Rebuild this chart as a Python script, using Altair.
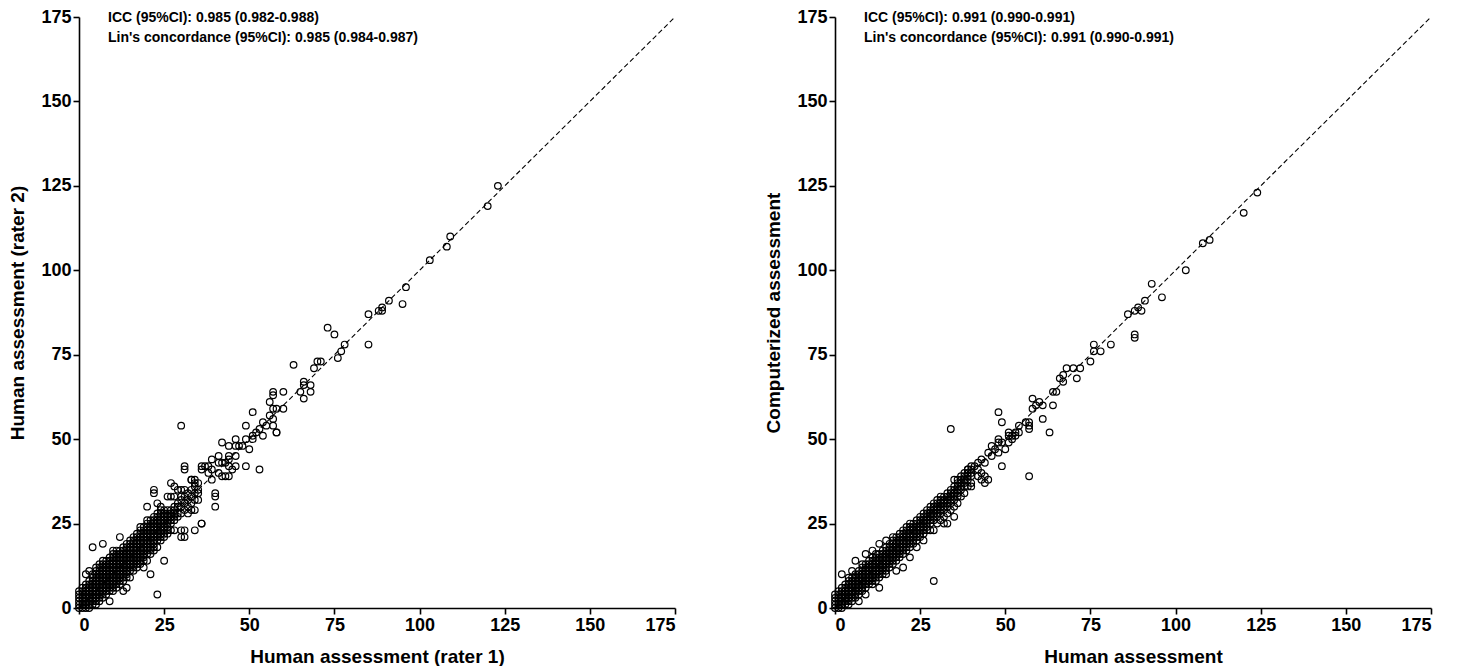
import altair as alt
import pandas as pd

# ---------------- Left panel: rater 1 (x) vs rater 2 (y) ----------------
# dense band: index = rater-1 score, values = rater-2 scores seen at that score
left_band = [
    [0, 1, 2, 3, 4, 5],
    [0, 1, 2, 3, 4, 5, 6],
    [0, 1, 2, 3, 4, 5, 6, 7, 10],
    [0, 1, 2, 3, 4, 5, 6, 7, 8, 11],
    [1, 2, 3, 4, 5, 6, 7, 8, 9, 10, 18],
    [1, 2, 3, 4, 5, 6, 7, 8, 9, 10, 11, 12],
    [2, 3, 4, 5, 6, 7, 8, 9, 10, 11, 12, 13],
    [3, 4, 5, 6, 7, 8, 9, 10, 11, 12, 13, 14, 19],
    [4, 5, 6, 7, 8, 9, 10, 11, 12, 13, 14],
    [2, 5, 6, 7, 8, 9, 10, 11, 12, 13, 14, 15],
    [5, 6, 7, 8, 9, 10, 11, 12, 13, 14, 15, 16, 17],
    [6, 7, 8, 9, 10, 11, 12, 13, 14, 15, 16, 17],
    [7, 8, 9, 10, 11, 12, 13, 14, 15, 16, 17, 21],
    [5, 8, 9, 10, 11, 12, 13, 14, 15, 16, 17, 18],
    [6, 9, 10, 11, 12, 13, 14, 15, 16, 17, 18, 19],
    [9, 11, 12, 13, 14, 15, 16, 17, 18, 19, 20],
    [11, 12, 13, 14, 15, 16, 17, 18, 19, 20, 21],
    [12, 13, 14, 15, 16, 17, 18, 19, 20, 21, 22],
    [13, 14, 15, 16, 17, 18, 19, 20, 21, 22, 23, 24],
    [12, 14, 15, 16, 17, 18, 19, 20, 21, 22, 23, 24],
    [14, 16, 17, 18, 19, 20, 21, 22, 23, 24, 25, 26, 30],
    [10, 16, 17, 18, 19, 20, 21, 22, 23, 24, 25, 26],
    [17, 18, 19, 20, 21, 22, 23, 24, 25, 26, 27, 34, 35],
    [4, 18, 20, 21, 22, 23, 24, 25, 26, 27, 28, 31],
    [20, 21, 22, 23, 24, 25, 26, 27, 28, 29, 30],
    [14, 21, 22, 23, 24, 25, 26, 27, 28, 29],
    [22, 23, 24, 25, 26, 27, 28, 29, 33],
    [23, 25, 26, 27, 28, 29, 33, 37],
    [23, 26, 27, 28, 29, 30, 33, 36],
    [27, 28, 30, 31, 35],
    [21, 23, 28, 30, 32, 33, 35, 54],
    [21, 23, 29, 31, 33, 35, 42],
    [28, 30, 32, 34],
    [29, 31, 33, 35, 38],
    [23, 29, 32, 34, 36, 37],
    [32, 34, 35, 37],
    [25, 42],
]
left_sparse_x = [37, 38, 38, 39, 39, 40, 40, 41, 41, 41, 42, 42, 42, 43, 43, 44, 44, 44,
                 44, 45, 46, 46, 46, 46, 48, 49, 49, 49, 50, 51, 51, 51, 53, 53, 54, 54,
                 56, 56, 57, 57, 57, 57, 57, 58, 58, 60, 60, 63, 65, 66, 66, 66, 68, 68,
                 69, 70, 71, 73, 75, 76, 77, 78, 85, 85, 88, 89, 89, 91, 95, 96, 103,
                 108, 109, 120, 123, 39, 36, 31, 33, 34, 40, 44, 47, 52, 55, 58, 36]
left_sparse_y = [42, 42, 40, 38, 44, 34, 30, 45, 43, 40, 43, 39, 49, 43, 39, 45, 44, 48,
                 39, 41, 50, 48, 45, 42, 48, 50, 54, 42, 47, 58, 51, 50, 53, 41, 55, 51,
                 61, 57, 64, 63, 59, 56, 54, 59, 52, 64, 59, 72, 64, 67, 66, 62, 66, 64,
                 71, 73, 73, 83, 81, 74, 76, 78, 87, 78, 88, 89, 88, 91, 90, 95, 103,
                 107, 110, 119, 125, 41, 41, 41, 38, 38, 33, 42, 48, 52, 54, 52, 25]

# ---------------- Right panel: human (x) vs computerized (y) ----------------
right_band = [
    [0, 1, 2, 3, 4],
    [0, 1, 2, 3, 4, 5],
    [0, 1, 2, 3, 4, 5, 6, 10],
    [1, 2, 3, 4, 5, 6, 7],
    [1, 2, 3, 4, 5, 6, 7, 8, 9],
    [2, 3, 4, 5, 6, 7, 8, 9, 11],
    [3, 4, 5, 6, 7, 8, 9, 10, 14],
    [2, 4, 5, 6, 7, 8, 9, 10, 11],
    [5, 6, 7, 8, 9, 10, 11, 12, 13],
    [4, 6, 7, 8, 9, 10, 11, 12, 13, 16],
    [7, 8, 9, 10, 11, 12, 13, 14],
    [7, 8, 9, 10, 11, 12, 13, 14, 15, 17],
    [8, 9, 10, 11, 12, 13, 14, 15, 16],
    [6, 9, 10, 11, 12, 13, 14, 15, 16, 19],
    [10, 11, 12, 13, 14, 15, 16, 17],
    [10, 11, 12, 13, 14, 15, 16, 17, 18, 20],
    [12, 13, 14, 15, 16, 17, 18, 19],
    [13, 14, 15, 16, 17, 18, 19, 20, 21],
    [11, 14, 15, 16, 17, 18, 19, 20, 21],
    [15, 16, 17, 18, 19, 20, 21, 22],
    [12, 16, 17, 18, 19, 20, 21, 22, 23],
    [17, 18, 19, 20, 21, 22, 23, 24],
    [15, 18, 19, 20, 21, 22, 23, 24, 25],
    [19, 20, 21, 22, 23, 24, 25],
    [18, 20, 21, 22, 23, 24, 25, 26],
    [21, 22, 23, 24, 25, 26, 27],
    [20, 22, 23, 24, 25, 26, 27, 28],
    [23, 24, 25, 26, 27, 28, 29],
    [23, 25, 26, 27, 28, 29, 30],
    [8, 23, 26, 27, 28, 29, 30, 31],
    [25, 27, 28, 29, 30, 31, 32],
    [26, 28, 29, 30, 31, 32, 33],
    [25, 27, 29, 30, 31, 32, 33],
    [25, 28, 30, 31, 32, 33, 34],
    [29, 31, 32, 33, 34, 35, 53],
    [27, 30, 32, 33, 34, 35, 36, 38],
    [31, 33, 34, 35, 36, 37, 38],
    [33, 35, 36, 38, 39],
    [34, 36, 38, 40],
    [36, 38, 39, 41],
    [37, 39, 40, 42],
]
right_sparse_x = [37, 38, 38, 39, 39, 40, 40, 41, 42, 42, 42, 43, 43, 43, 44, 44, 44, 45,
                  45, 46, 46, 47, 48, 48, 48, 48, 49, 49, 49, 50, 51, 51, 51, 52, 52, 53,
                  53, 54, 54, 56, 57, 57, 57, 57, 58, 58, 59, 60, 61, 61, 63, 64, 64, 65,
                  66, 67, 67, 68, 70, 71, 72, 75, 76, 76, 78, 81, 86, 88, 88, 88, 89, 90,
                  91, 93, 96, 103, 108, 110, 120, 124]
right_sparse_y = [37, 39, 37, 40, 41, 41, 36, 42, 43, 39, 41, 44, 40, 38, 43, 37, 39, 46,
                  38, 48, 45, 47, 50, 49, 58, 46, 49, 55, 42, 47, 51, 49, 52, 51, 50, 52,
                  51, 54, 52, 55, 54, 53, 39, 55, 59, 62, 60, 61, 56, 60, 52, 60, 64, 64,
                  68, 67, 69, 71, 71, 68, 71, 73, 76, 78, 76, 78, 87, 81, 80, 88, 89, 88,
                  91, 96, 92, 100, 108, 109, 117, 123]

ICC_LEFT = ["ICC (95%CI): 0.985 (0.982-0.988)", "Lin's concordance (95%CI): 0.985 (0.984-0.987)"]
ICC_RIGHT = ["ICC (95%CI): 0.991 (0.990-0.991)", "Lin's concordance (95%CI): 0.991 (0.990-0.991)"]
AXIS_MAX = 175
TICKS = [0, 25, 50, 75, 100, 125, 150, 175]

FONT = "Liberation Sans, Arial, Helvetica"


def build_points(band, sx, sy):
    xs, ys = [], []
    for xv, col in enumerate(band):
        for yv in col:
            xs.append(xv)
            ys.append(yv)
    xs += sx
    ys += sy
    return pd.DataFrame({"x": xs, "y": ys})


def panel(df, xtitle, ytitle, notes):
    xs = alt.Scale(domain=[0, AXIS_MAX], nice=False, zero=True)
    ys = alt.Scale(domain=[0, AXIS_MAX], nice=False, zero=True)
    xax = alt.Axis(values=TICKS, title=xtitle, titlePadding=13)
    yax = alt.Axis(values=TICKS, title=ytitle, titlePadding=13)
    line_df = pd.DataFrame({"x": [0, AXIS_MAX], "y": [0, AXIS_MAX]})
    line = alt.Chart(line_df).mark_line(
        color="black", strokeDash=[5, 3], strokeWidth=1.1
    ).encode(
        x=alt.X("x:Q", scale=xs, axis=xax),
        y=alt.Y("y:Q", scale=ys, axis=yax),
    )
    pts = alt.Chart(df).mark_point(
        shape="circle", filled=False, color="black", size=44, strokeWidth=1.2, opacity=1
    ).encode(
        x=alt.X("x:Q", scale=xs),
        y=alt.Y("y:Q", scale=ys),
    )
    layers = [line, pts]
    for i, note in enumerate(notes):
        layers.append(
            alt.Chart(pd.DataFrame({"t": [note]})).mark_text(
                align="left", baseline="middle", font=FONT, fontSize=14,
                fontWeight="bold", color="black"
            ).encode(x=alt.value(29), y=alt.value(1 + 20 * i), text="t:N")
        )
    return alt.layer(*layers).properties(width=596, height=591)


left = panel(build_points(left_band, left_sparse_x, left_sparse_y),
             "Human assessment (rater 1)", "Human assessment (rater 2)", ICC_LEFT)
right = panel(build_points(right_band, right_sparse_x, right_sparse_y),
              "Human assessment", "Computerized assessment", ICC_RIGHT)

chart = alt.hconcat(left, right, spacing=86).properties(
    padding={"left": 0, "top": 0, "right": 0, "bottom": 0}
).configure_view(stroke=None).configure_axis(
    grid=False,
    domainColor="black", domainWidth=1.6,
    tickColor="black", tickWidth=1.6, tickSize=6,
    labelColor="black", titleColor="black",
    labelFont=FONT, titleFont=FONT,
    labelFontSize=18, titleFontSize=19,
    labelFontWeight="bold", titleFontWeight="bold",
    labelPadding=2,
)

chart.save("out.html", embed_options={"renderer": "svg", "actions": False})
